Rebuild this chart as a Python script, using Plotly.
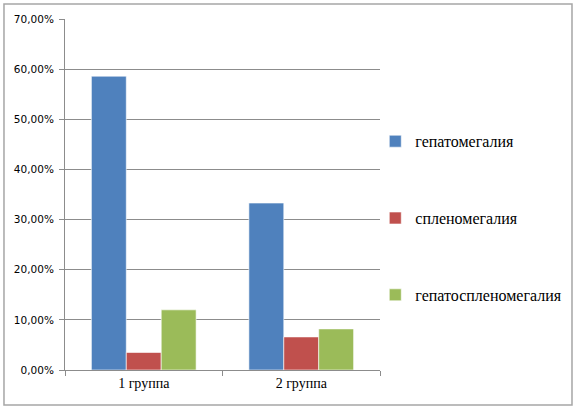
import plotly.graph_objects as go

# data
groups = ["1 группа", "2 группа"]
series_names = ["гепатомегалия", "спленомегалия", "гепатоспленомегалия"]
hepatomegaly = [0.586, 0.333]
splenomegaly = [0.035, 0.066]
hepatosplenomegaly = [0.120, 0.082]
colors = ["#4F81BD", "#C0504D", "#9BBB59"]

fig = go.Figure()
for name, vals, col in zip(series_names,
                           [hepatomegaly, splenomegaly, hepatosplenomegaly],
                           colors):
    fig.add_trace(go.Bar(
        x=groups, y=vals, name=name, legendgroup=name,
        marker=dict(color=col, line=dict(color="rgba(255,255,255,0.6)", width=1)),
    ))

fig.update_layout(
    width=579, height=413,
    margin=dict(l=65, r=199, t=19, b=43),
    paper_bgcolor="white", plot_bgcolor="white",
    barmode="group", bargap=0.335, bargroupgap=0,
    separators=", ",
    legend=dict(
        x=0.985, y=0.70, xanchor="left", yanchor="top",
        font=dict(family="Liberation Serif", size=16, color="black"),
        tracegroupgap=53, traceorder="grouped", itemwidth=30,
        bgcolor="rgba(0,0,0,0)",
    ),
    shapes=[dict(
        type="rect", xref="paper", yref="paper",
        x0=-0.1937, x1=1.6095, y0=-0.0997, y1=1.0427,
        line=dict(color="#A6A6A6", width=1.5),
    )],
)
fig.update_yaxes(
    range=[0, 0.70], dtick=0.10, tickformat=".2%",
    showgrid=True, gridcolor="#8C8C8C", gridwidth=1,
    showline=True, linecolor="#8C8C8C",
    ticks="outside", ticklen=5, tickcolor="#8C8C8C", ticklabelstandoff=3,
    tickfont=dict(family="DejaVu Sans", size=10.5, color="black"),
    zeroline=False,
)
fig.update_xaxes(
    showline=True, linecolor="#8C8C8C",
    ticks="outside", ticklen=5, tickcolor="#8C8C8C", tickson="boundaries",
    tickfont=dict(family="Liberation Serif", size=14, color="black"),
)

# page body has an 8px default margin; drop it so the figure sits at 0,0
fig.write_html("out.html", config={"displayModeBar": False},
               post_script="document.body.style.margin='0';")
